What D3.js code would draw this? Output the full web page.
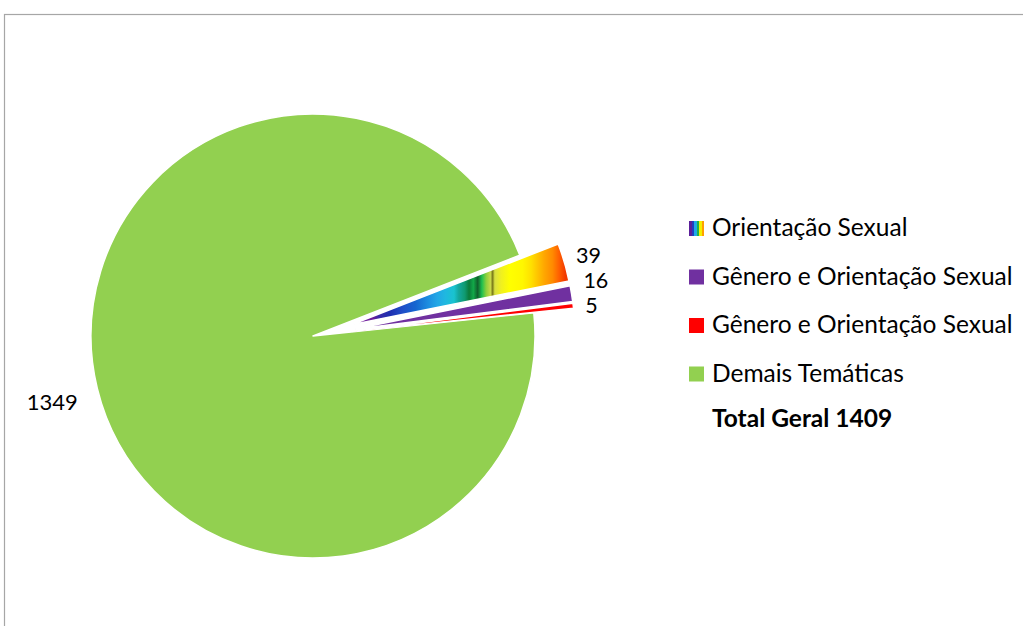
<!DOCTYPE html>
<html>
<head>
<meta charset="utf-8">
<script src="https://cdn.jsdelivr.net/npm/d3@7"></script>
<style>
  html, body { margin: 0; padding: 0; background: #fff; }
  svg { display: block; font-family: Lato, "Open Sans", sans-serif; }
</style>
</head>
<body>
<div id="chart"></div>
<script>
// chart data
const categories = ['Demais Temáticas', 'Orientação Sexual', 'Gênero e Orientação Sexual', 'Gênero e Orientação Sexual'];
const values = [1349, 39, 16, 5];
const sliceKeys = ['demais', 'orientacao', 'genero1', 'genero2'];
const exploded = [false, true, true, true];
const legendOrder = [1, 2, 3, 0];
const totalLabel = 'Total Geral 1409';

drawChart();

function drawChart() {
    const width = 1023;
    const height = 626;
    const cx = 313, cy = 336, r = 222;
    const explode = 40;

    const svg = d3.select('#chart').append('svg')
        .attr('width', width)
        .attr('height', height);

    const defs = svg.append('defs');

    // rainbow texture for the "Orientação Sexual" slice (vertical stripes along x,
    // in the slice's own coordinates: 0 = tip of the slice)
    const rainbowStops = [
        [0.00, '#7a1fa0'], [0.10, '#6a1b9a'], [0.13, '#3a2aa8'], [0.18, '#1e2fb0'],
        [0.24, '#1f4fc8'], [0.30, '#1566d0'], [0.36, '#1c8ee0'], [0.40, '#22a6e6'],
        [0.44, '#1fb8e0'], [0.48, '#19c3cf'], [0.50, '#14a8a0'], [0.53, '#0f9a70'],
        [0.55, '#0b7a3a'], [0.57, '#12a848'], [0.59, '#0f5f2c'], [0.61, '#1fc050'],
        [0.63, '#8ccf3c'], [0.65, '#c8d84a'], [0.66, '#7a7a1a'], [0.67, '#d8e040'],
        [0.70, '#f0f020'], [0.74, '#ffff00'], [0.80, '#fff700'], [0.84, '#ffe000'],
        [0.87, '#ffc400'], [0.90, '#ffa800'], [0.94, '#ff8a00'], [0.97, '#ff6000'],
        [1.00, '#f23a00']
    ];
    const rainbow = defs.append('linearGradient')
        .attr('id', 'rainbow')
        .attr('gradientUnits', 'userSpaceOnUse')
        .attr('x1', 0).attr('y1', 0)
        .attr('x2', r - 8).attr('y2', 0);
    rainbow.selectAll('stop').data(rainbowStops).join('stop')
        .attr('offset', d => d[0])
        .attr('stop-color', d => d[1]);

    // small legend swatch with hard stripes
    const swatchColors = ['#5b1f9a', '#1f3fc0', '#20a8e8', '#1fb050', '#f4f000', '#ffa000'];
    const swatch = defs.append('linearGradient').attr('id', 'rainbowSwatch');
    swatchColors.forEach(function(c, i) {
        swatch.append('stop').attr('offset', i / swatchColors.length).attr('stop-color', c);
        swatch.append('stop').attr('offset', (i + 1) / swatchColors.length).attr('stop-color', c);
    });

    const fills = {
        demais: '#92d050',
        orientacao: 'url(#rainbow)',
        genero1: '#7030a0',
        genero2: '#ff0000'
    };
    const legendFills = Object.assign({}, fills, { orientacao: 'url(#rainbowSwatch)' });

    // outer frame (cut off at right and bottom)
    svg.append('rect')
        .attr('x', 4.5).attr('y', 14.5)
        .attr('width', width + 20).attr('height', height + 20)
        .attr('fill', 'none')
        .attr('stroke', '#a6a6a6')
        .attr('stroke-width', 1.2);

    const rows = values.map((v, i) => ({ key: sliceKeys[i], value: v, name: categories[i], explode: exploded[i] }));

    // green starts just below 3 o'clock and wraps around
    const startA = 84 * Math.PI / 180;
    const pie = d3.pie()
        .value(d => d.value)
        .sort(null)
        .startAngle(startA)
        .endAngle(startA + 2 * Math.PI);

    const arc = d3.arc().innerRadius(0).outerRadius(r);
    const arcs = pie(rows);

    function offsetOf(d) {
        if (!d.data.explode) return [0, 0];
        const a = (d.startAngle + d.endAngle) / 2;
        return [Math.sin(a) * explode, -Math.cos(a) * explode];
    }

    const g = svg.append('g').attr('transform', `translate(${cx},${cy})`);

    g.selectAll('path.slice')
        .data(arcs)
        .join('path')
        .attr('class', 'slice')
        .attr('transform', d => {
            const o = offsetOf(d);
            return `translate(${o[0]},${o[1]})`;
        })
        .attr('d', arc)
        .attr('fill', d => fills[d.data.key])
        .attr('stroke', '#fff')
        .attr('stroke-width', 1.5)
        .attr('stroke-linejoin', 'round');

    // data labels, outside end
    const labelPos = arcs.map(d => {
        const a = (d.startAngle + d.endAngle) / 2;
        const o = offsetOf(d);
        const rr = d.data.explode ? r + 12 : r + 20;
        return {
            d: d,
            x: o[0] + Math.sin(a) * rr,
            y: o[1] - Math.cos(a) * rr,
            anchor: Math.sin(a) >= 0 ? 'start' : 'end'
        };
    });

    // keep the small right-side labels from overlapping (push upward from the bottom one)
    const right = labelPos.filter(p => p.anchor === 'start').sort((a, b) => b.y - a.y);
    if (right.length) right[0].y += 1;
    for (let i = 1; i < right.length; i++) {
        if (right[i - 1].y - right[i].y < 25) right[i].y = right[i - 1].y - 25;
    }

    g.selectAll('text.dlabel')
        .data(labelPos)
        .join('text')
        .attr('class', 'dlabel')
        .attr('x', p => p.x)
        .attr('y', p => p.y)
        // left label hangs from its top-right corner, right ones are centred
        .attr('dy', p => p.anchor === 'end' ? '0.75em' : '0.35em')
        .attr('text-anchor', p => p.anchor)
        .attr('font-size', p => p.anchor === 'end' ? 22 : 21.5)
        .attr('fill', '#000')
        .text(p => p.d.data.value);

    // legend
    const legend = svg.append('g').attr('transform', 'translate(689,221)');
    const rowH = 48.5;
    const items = legendOrder.map(i => rows[i]);

    const li = legend.selectAll('g.item')
        .data(items)
        .join('g')
        .attr('class', 'item')
        .attr('transform', (d, i) => `translate(0,${i * rowH})`);

    li.append('rect')
        .attr('width', 15).attr('height', 15)
        .attr('fill', d => legendFills[d.key]);

    li.append('text')
        .attr('x', 23)
        .attr('y', 15)
        .attr('font-size', 24.5)
        .attr('fill', '#000')
        .text(d => d.name);

    legend.append('text')
        .attr('x', 23)
        .attr('y', 206)
        .attr('font-size', 24.5)
        .attr('font-weight', 'bold')
        .attr('fill', '#000')
        .text(totalLabel);
}
</script>
</body>
</html>
